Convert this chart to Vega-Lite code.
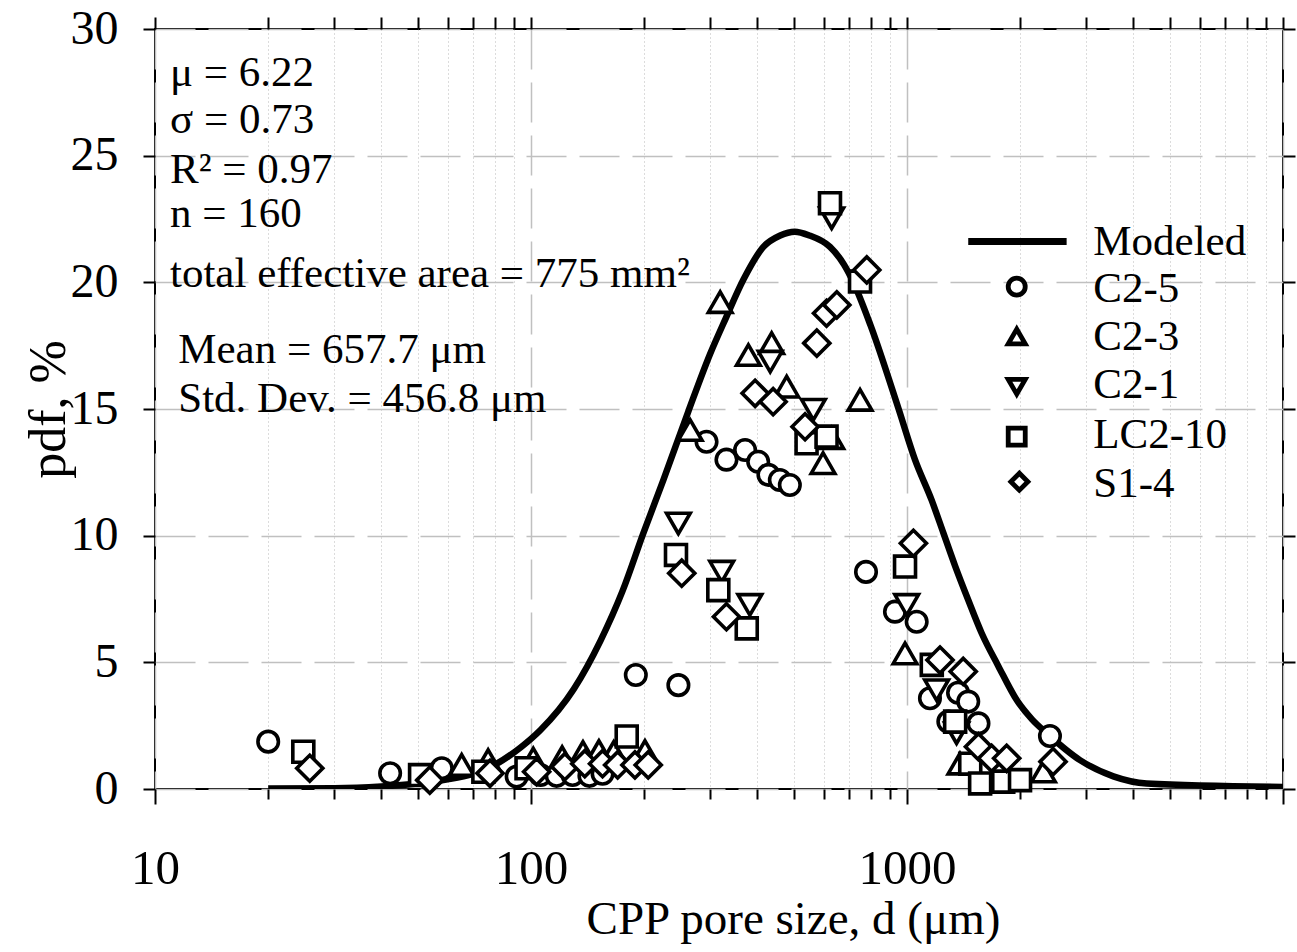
{
  "$schema": "https://vega.github.io/schema/vega-lite/v6.json",
  "width": 1128,
  "height": 760,
  "autosize": {"type": "none"},
  "padding": {"left": 155, "top": 29, "right": 14, "bottom": 163},
  "background": "white",
  "config": {
    "view": {"stroke": "black", "strokeWidth": 2},
    "font": "Liberation Serif",
    "axis": {"labelFont": "Liberation Serif", "titleFont": "Liberation Serif", "labelColor": "black", "titleColor": "black", "tickColor": "black", "domainColor": "black", "titleFontWeight": "normal"},
    "point": {"filled": false, "color": "black", "fill": "white", "fillOpacity": 1, "stroke": "black", "strokeWidth": 3.6, "opacity": 1}
  },
  "datasets": {
    "curve": [
      {"d": 20, "pdf": 0.02}, {"d": 30, "pdf": 0.03}, {"d": 40, "pdf": 0.1}, {"d": 50, "pdf": 0.22},
      {"d": 60, "pdf": 0.38}, {"d": 70, "pdf": 0.6}, {"d": 80, "pdf": 0.95}, {"d": 94, "pdf": 1.65},
      {"d": 106, "pdf": 2.33}, {"d": 130, "pdf": 3.95}, {"d": 153, "pdf": 5.85}, {"d": 175, "pdf": 7.8},
      {"d": 199, "pdf": 10.1}, {"d": 225, "pdf": 12.2}, {"d": 262, "pdf": 14.9}, {"d": 300, "pdf": 17.2},
      {"d": 330, "pdf": 18.6}, {"d": 367, "pdf": 20.1}, {"d": 415, "pdf": 21.4}, {"d": 460, "pdf": 21.85},
      {"d": 503, "pdf": 22.0}, {"d": 550, "pdf": 21.85}, {"d": 624, "pdf": 21.4}, {"d": 680, "pdf": 20.7},
      {"d": 720, "pdf": 20.0}, {"d": 800, "pdf": 18.3}, {"d": 950, "pdf": 15.0}, {"d": 1050, "pdf": 13.0},
      {"d": 1163, "pdf": 11.4}, {"d": 1250, "pdf": 10.1}, {"d": 1343, "pdf": 8.8}, {"d": 1456, "pdf": 7.45},
      {"d": 1580, "pdf": 6.15}, {"d": 1750, "pdf": 4.85}, {"d": 1960, "pdf": 3.5}, {"d": 2150, "pdf": 2.75},
      {"d": 2354, "pdf": 2.2}, {"d": 2884, "pdf": 1.14}, {"d": 3539, "pdf": 0.5}, {"d": 4340, "pdf": 0.22},
      {"d": 10000, "pdf": 0.08}
    ],
    "obs": [
      {"series": "C2-5", "d": 20.0, "pdf": 1.87}, {"series": "C2-5", "d": 42.2, "pdf": 0.62}, {"series": "C2-5", "d": 57.9, "pdf": 0.82},
      {"series": "C2-5", "d": 91.6, "pdf": 0.49}, {"series": "C2-5", "d": 106, "pdf": 0.55}, {"series": "C2-5", "d": 117, "pdf": 0.52},
      {"series": "C2-5", "d": 129, "pdf": 0.55}, {"series": "C2-5", "d": 143, "pdf": 0.52}, {"series": "C2-5", "d": 155, "pdf": 0.6},
      {"series": "C2-5", "d": 190, "pdf": 4.5}, {"series": "C2-5", "d": 246.6, "pdf": 4.1}, {"series": "C2-5", "d": 293, "pdf": 13.71},
      {"series": "C2-5", "d": 331, "pdf": 13.0}, {"series": "C2-5", "d": 371, "pdf": 13.38}, {"series": "C2-5", "d": 402, "pdf": 12.92},
      {"series": "C2-5", "d": 428, "pdf": 12.4}, {"series": "C2-5", "d": 459, "pdf": 12.2}, {"series": "C2-5", "d": 488, "pdf": 12.0},
      {"series": "C2-5", "d": 778, "pdf": 8.57}, {"series": "C2-5", "d": 929, "pdf": 7.0}, {"series": "C2-5", "d": 1061, "pdf": 6.6},
      {"series": "C2-5", "d": 1151, "pdf": 3.58}, {"series": "C2-5", "d": 1288, "pdf": 2.66}, {"series": "C2-5", "d": 1367, "pdf": 3.8},
      {"series": "C2-5", "d": 1455, "pdf": 3.45}, {"series": "C2-5", "d": 1549, "pdf": 2.59}, {"series": "C2-5", "d": 2400, "pdf": 2.09},
      {"series": "C2-3", "d": 65.4, "pdf": 0.95}, {"series": "C2-3", "d": 76.9, "pdf": 1.14}, {"series": "C2-3", "d": 101.4, "pdf": 1.2},
      {"series": "C2-3", "d": 121, "pdf": 1.26}, {"series": "C2-3", "d": 137.5, "pdf": 1.46}, {"series": "C2-3", "d": 151.6, "pdf": 1.5},
      {"series": "C2-3", "d": 166, "pdf": 1.46}, {"series": "C2-3", "d": 201, "pdf": 1.5}, {"series": "C2-3", "d": 265, "pdf": 14.17},
      {"series": "C2-3", "d": 318.5, "pdf": 19.22}, {"series": "C2-3", "d": 378.5, "pdf": 17.13}, {"series": "C2-3", "d": 436.5, "pdf": 17.6},
      {"series": "C2-3", "d": 478.6, "pdf": 15.88}, {"series": "C2-3", "d": 598, "pdf": 12.86}, {"series": "C2-3", "d": 630.5, "pdf": 13.85},
      {"series": "C2-3", "d": 750, "pdf": 15.36}, {"series": "C2-3", "d": 988, "pdf": 5.35}, {"series": "C2-3", "d": 1383, "pdf": 1.0},
      {"series": "C2-3", "d": 2305, "pdf": 0.69},
      {"series": "C2-1", "d": 246.6, "pdf": 10.48}, {"series": "C2-1", "d": 321.5, "pdf": 8.58}, {"series": "C2-1", "d": 382, "pdf": 7.27},
      {"series": "C2-1", "d": 432.7, "pdf": 16.87}, {"series": "C2-1", "d": 563.6, "pdf": 14.97}, {"series": "C2-1", "d": 630.5, "pdf": 22.53},
      {"series": "C2-1", "d": 998, "pdf": 7.27}, {"series": "C2-1", "d": 1199, "pdf": 3.9}, {"series": "C2-1", "d": 1355, "pdf": 2.2},
      {"series": "LC2-10", "d": 24.8, "pdf": 1.47}, {"series": "LC2-10", "d": 50.7, "pdf": 0.55}, {"series": "LC2-10", "d": 74.7, "pdf": 0.68},
      {"series": "LC2-10", "d": 97.3, "pdf": 0.82}, {"series": "LC2-10", "d": 179.7, "pdf": 2.07}, {"series": "LC2-10", "d": 243, "pdf": 9.24},
      {"series": "LC2-10", "d": 314.9, "pdf": 7.85}, {"series": "LC2-10", "d": 374.8, "pdf": 6.34}, {"series": "LC2-10", "d": 540.6, "pdf": 13.65},
      {"series": "LC2-10", "d": 611, "pdf": 13.91}, {"series": "LC2-10", "d": 624, "pdf": 23.12}, {"series": "LC2-10", "d": 750, "pdf": 20.03},
      {"series": "LC2-10", "d": 988, "pdf": 8.78}, {"series": "LC2-10", "d": 1164, "pdf": 4.9}, {"series": "LC2-10", "d": 1343, "pdf": 2.66},
      {"series": "LC2-10", "d": 1473, "pdf": 1.0}, {"series": "LC2-10", "d": 1565, "pdf": 0.22}, {"series": "LC2-10", "d": 1803, "pdf": 0.29},
      {"series": "LC2-10", "d": 1998, "pdf": 0.35},
      {"series": "S1-4", "d": 25.8, "pdf": 0.82}, {"series": "S1-4", "d": 53.8, "pdf": 0.35}, {"series": "S1-4", "d": 77.8, "pdf": 0.62},
      {"series": "S1-4", "d": 103.5, "pdf": 0.68}, {"series": "S1-4", "d": 123, "pdf": 0.88}, {"series": "S1-4", "d": 139, "pdf": 1.0},
      {"series": "S1-4", "d": 155, "pdf": 1.0}, {"series": "S1-4", "d": 170, "pdf": 0.95}, {"series": "S1-4", "d": 189, "pdf": 0.95},
      {"series": "S1-4", "d": 205, "pdf": 0.95}, {"series": "S1-4", "d": 251.7, "pdf": 8.52}, {"series": "S1-4", "d": 331, "pdf": 6.8},
      {"series": "S1-4", "d": 394.5, "pdf": 15.62}, {"series": "S1-4", "d": 440.5, "pdf": 15.29}, {"series": "S1-4", "d": 535.7, "pdf": 14.3},
      {"series": "S1-4", "d": 575.6, "pdf": 17.6}, {"series": "S1-4", "d": 611, "pdf": 18.78}, {"series": "S1-4", "d": 650.6, "pdf": 19.11},
      {"series": "S1-4", "d": 781.6, "pdf": 20.49}, {"series": "S1-4", "d": 1040, "pdf": 9.7}, {"series": "S1-4", "d": 1224, "pdf": 5.09},
      {"series": "S1-4", "d": 1411, "pdf": 4.64}, {"series": "S1-4", "d": 1549, "pdf": 1.67}, {"series": "S1-4", "d": 1679, "pdf": 1.21},
      {"series": "S1-4", "d": 1841, "pdf": 1.21}, {"series": "S1-4", "d": 2446, "pdf": 1.08}
    ],
    "notes": [
      {"d": 10.96, "pdf": 27.75, "label": "μ = 6.22"},
      {"d": 10.96, "pdf": 25.89, "label": "σ = 0.73"},
      {"d": 10.96, "pdf": 23.94, "label": "R² = 0.97"},
      {"d": 10.96, "pdf": 22.2, "label": "n = 160"},
      {"d": 10.96, "pdf": 19.83, "label": "total effective area = 775 mm²"},
      {"d": 11.53, "pdf": 16.8, "label": "Mean = 657.7 μm"},
      {"d": 11.53, "pdf": 14.9, "label": "Std. Dev. = 456.8 μm"}
    ],
    "legendLine": [
      {"d": 1455, "d2": 2658, "pdf": 21.61}
    ],
    "legendSymbols": [
      {"series": "C2-5", "d": 1958, "pdf": 19.83},
      {"series": "C2-3", "d": 1958, "pdf": 17.86},
      {"series": "C2-1", "d": 1958, "pdf": 15.88},
      {"series": "LC2-10", "d": 1958, "pdf": 13.91},
      {"series": "S1-4", "d": 1990, "pdf": 12.13}
    ],
    "legendLabels": [
      {"label": "Modeled", "d": 3130, "pdf": 21.08},
      {"label": "C2-5", "d": 3130, "pdf": 19.24},
      {"label": "C2-3", "d": 3130, "pdf": 17.33},
      {"label": "C2-1", "d": 3130, "pdf": 15.44},
      {"label": "LC2-10", "d": 3130, "pdf": 13.46},
      {"label": "S1-4", "d": 3130, "pdf": 11.54}
    ]
  },
  "resolve": {"scale": {"x": "shared", "y": "shared", "shape": "shared"}, "axis": {"x": "independent", "y": "independent"}},
  "layer": [
    {
      "data": {"name": "curve"},
      "mark": {"type": "line", "color": "black", "strokeWidth": 6.5, "interpolate": "monotone", "clip": true},
      "encoding": {
        "x": {
          "field": "d", "type": "quantitative",
          "scale": {"type": "log", "domain": [10, 10000], "nice": false},
          "axis": {
            "orient": "bottom", "values": [10, 100, 1000, 10000],
            "labelExpr": "datum.value >= 10000 ? '' : format(datum.value, 'd')",
            "labelFontSize": 49, "labelBaseline": "alphabetic", "labelPadding": 79, "labelFlush": false, "labelOverlap": false,
            "grid": true, "gridColor": "#c0c0c0", "gridDash": [40, 13], "gridWidth": 1.5,
            "tickSize": 15, "tickWidth": 2, "domain": false,
            "title": "CPP pore size, d (μm)", "titleFontSize": 47, "titleX": 638, "titleY": 144,
            "titleAlign": "center", "titleBaseline": "alphabetic", "titleAnchor": null
          }
        },
        "y": {
          "field": "pdf", "type": "quantitative",
          "scale": {"domain": [0, 30], "nice": false},
          "axis": {
            "orient": "left", "values": [0, 5, 10, 15, 20, 25, 30],
            "labelFontSize": 48, "labelPadding": 25, "labelFlush": false, "labelOverlap": false,
            "grid": true, "gridColor": "#c0c0c0", "gridDash": [40, 13], "gridWidth": 1.5,
            "tickSize": 12, "tickWidth": 2, "domain": false,
            "title": "pdf, %", "titleFontSize": 52, "titleX": -107, "titleY": 380,
            "titleAngle": 270, "titleAlign": "center", "titleBaseline": "middle"
          }
        }
      }
    },
    {
      "data": {"name": "obs"},
      "transform": [{"filter": "datum.series === 'C2-5'"}],
      "mark": {"type": "point", "size": 420},
      "encoding": {
        "x": {
          "field": "d", "type": "quantitative",
          "axis": {
            "orient": "bottom", "values": [20, 30, 40, 50, 60, 70, 80, 90, 200, 300, 400, 500, 600, 700, 800, 900, 2000, 3000, 4000, 5000, 6000, 7000, 8000, 9000],
            "labels": false, "grid": true, "gridColor": "#b8b8b8", "gridDash": [1, 3], "gridWidth": 1,
            "tickSize": 10, "tickWidth": 2, "domain": false, "title": null
          }
        },
        "y": {
          "field": "pdf", "type": "quantitative",
          "axis": {
            "orient": "right", "values": [0, 5, 10, 15, 20, 25, 30],
            "labels": false, "grid": false, "tickSize": 12, "tickWidth": 2, "domain": false, "title": null
          }
        },
        "shape": {
          "field": "series", "type": "nominal",
          "scale": {
            "domain": ["C2-5", "C2-3", "C2-1", "LC2-10", "S1-4"],
            "range": ["circle", "triangle-up", "triangle-down", "square", "diamond"]
          },
          "legend": null
        }
      }
    },
    {
      "data": {"name": "obs"},
      "transform": [{"filter": "datum.series === 'C2-3'"}],
      "mark": {"type": "point", "size": 560},
      "encoding": {
        "x": {"field": "d", "type": "quantitative", "axis": null},
        "y": {"field": "pdf", "type": "quantitative", "axis": null},
        "shape": {"field": "series", "type": "nominal", "legend": null}
      }
    },
    {
      "data": {"name": "obs"},
      "transform": [{"filter": "datum.series === 'C2-1'"}],
      "mark": {"type": "point", "size": 560},
      "encoding": {
        "x": {"field": "d", "type": "quantitative", "axis": null},
        "y": {"field": "pdf", "type": "quantitative", "axis": null},
        "shape": {"field": "series", "type": "nominal", "legend": null}
      }
    },
    {
      "data": {"name": "obs"},
      "transform": [{"filter": "datum.series === 'LC2-10'"}],
      "mark": {"type": "point", "size": 440},
      "encoding": {
        "x": {"field": "d", "type": "quantitative", "axis": null},
        "y": {"field": "pdf", "type": "quantitative", "axis": null},
        "shape": {"field": "series", "type": "nominal", "legend": null}
      }
    },
    {
      "data": {"name": "obs"},
      "transform": [{"filter": "datum.series === 'S1-4'"}],
      "mark": {"type": "point", "size": 680},
      "encoding": {
        "x": {"field": "d", "type": "quantitative", "axis": null},
        "y": {"field": "pdf", "type": "quantitative", "axis": null},
        "shape": {"field": "series", "type": "nominal", "legend": null}
      }
    },
    {
      "data": {"name": "curve"},
      "mark": {"type": "point", "size": 0, "strokeWidth": 0, "opacity": 0},
      "encoding": {
        "x": {
          "field": "d", "type": "quantitative",
          "axis": {
            "orient": "top", "values": [10, 20, 30, 40, 50, 60, 70, 80, 90, 100, 200, 300, 400, 500, 600, 700, 800, 900, 1000, 2000, 3000, 4000, 5000, 6000, 7000, 8000, 9000, 10000],
            "labels": false, "grid": false, "tickSize": 12, "tickWidth": 2, "domain": false, "title": null
          }
        },
        "y": {"field": "pdf", "type": "quantitative", "axis": null}
      }
    },
    {
      "data": {"name": "notes"},
      "mark": {"type": "text", "align": "left", "baseline": "alphabetic", "font": "Liberation Serif", "fontSize": 43, "color": "black"},
      "encoding": {
        "x": {"field": "d", "type": "quantitative", "axis": null},
        "y": {"field": "pdf", "type": "quantitative", "axis": null},
        "text": {"field": "label"}
      }
    },
    {
      "data": {"name": "legendLine"},
      "mark": {"type": "rule", "color": "black", "strokeWidth": 7},
      "encoding": {
        "x": {"field": "d", "type": "quantitative", "axis": null},
        "x2": {"field": "d2"},
        "y": {"field": "pdf", "type": "quantitative", "axis": null}
      }
    },
    {
      "data": {"name": "legendSymbols"},
      "mark": {"type": "point", "size": 290, "strokeWidth": 4.8},
      "encoding": {
        "x": {"field": "d", "type": "quantitative", "axis": null},
        "y": {"field": "pdf", "type": "quantitative", "axis": null},
        "shape": {"field": "series", "type": "nominal", "legend": null}
      }
    },
    {
      "data": {"name": "legendLabels"},
      "mark": {"type": "text", "align": "left", "baseline": "alphabetic", "font": "Liberation Serif", "fontSize": 43, "color": "black"},
      "encoding": {
        "x": {"field": "d", "type": "quantitative", "axis": null},
        "y": {"field": "pdf", "type": "quantitative", "axis": null},
        "text": {"field": "label"}
      }
    }
  ]
}
